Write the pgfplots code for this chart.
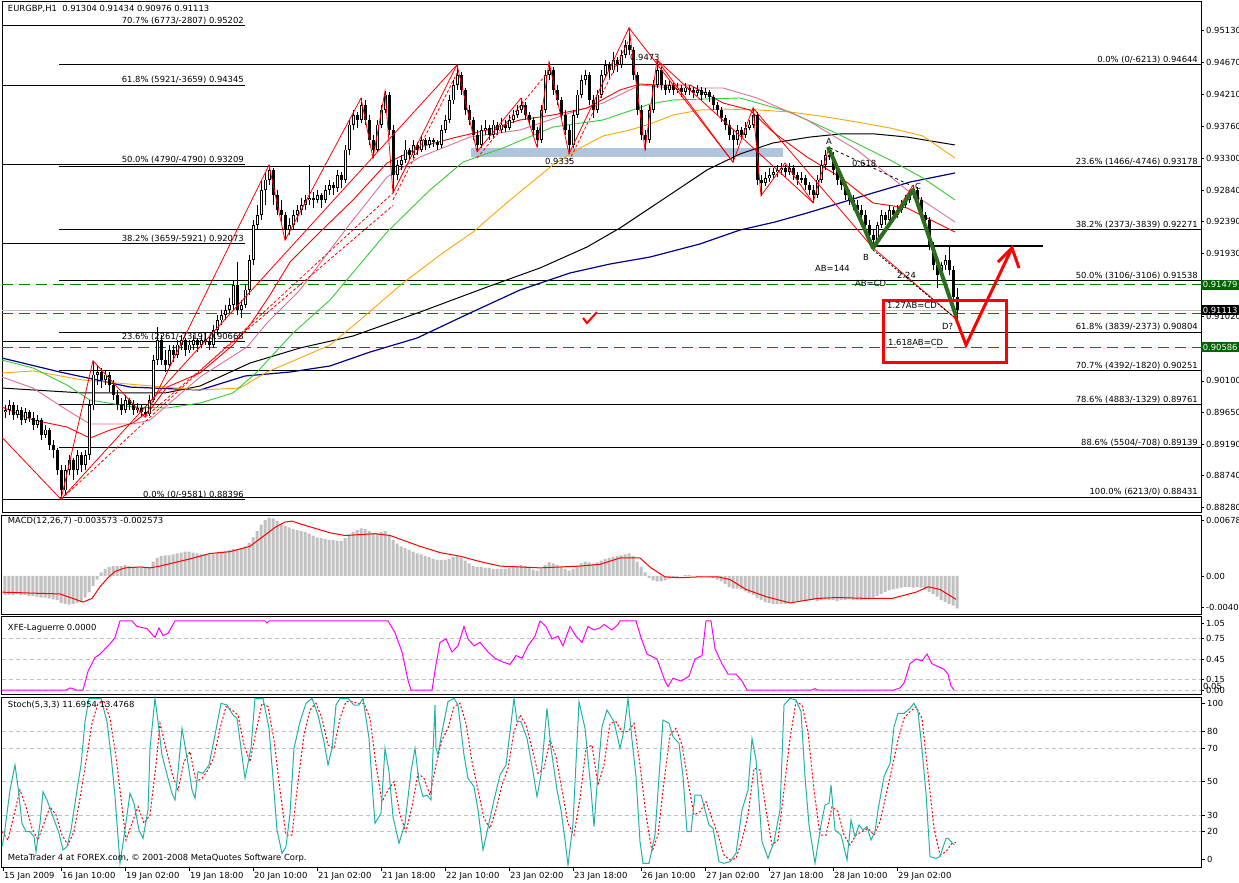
\documentclass[border=0pt]{standalone}
\usepackage{fontspec}
\setmainfont{DejaVu Sans}
\usepackage{pgfplots}
\usepackage{pgfplotstable}
\pgfplotsset{compat=1.18}

\definecolor{mtsilver}{RGB}{192,192,192}
\definecolor{mtgreen}{RGB}{0,128,0}
\definecolor{mtdkgreen}{RGB}{0,100,0}
\definecolor{abcdgreen}{RGB}{45,110,30}
\definecolor{mtpink}{RGB}{219,112,147}
\definecolor{mtlime}{RGB}{50,205,50}
\definecolor{mtorange}{RGB}{255,165,0}
\definecolor{mtnavy}{RGB}{0,0,139}
\definecolor{mtcyan}{RGB}{32,178,170}
\definecolor{mtsteel}{RGB}{176,196,222}
\definecolor{mtmag}{RGB}{255,0,255}
\newcommand\mtfont{\fontsize{8.4}{10}\selectfont}

% EURGBP H1 candles, one row per bar (open high low close)
\pgfplotstableread{
o h l c
0.8965 0.8975 0.8957 0.8968
0.8968 0.8983 0.8961 0.8975
0.8975 0.8980 0.8954 0.8961
0.8961 0.8975 0.8957 0.8968
0.8968 0.8973 0.8947 0.8954
0.8954 0.8971 0.8950 0.8965
0.8965 0.8968 0.8951 0.8957
0.8957 0.8965 0.8940 0.8947
0.8947 0.8961 0.8942 0.8954
0.8954 0.8957 0.8925 0.8932
0.8932 0.8947 0.8928 0.8940
0.8940 0.8942 0.8911 0.8918
0.8918 0.8925 0.8899 0.8911
0.8911 0.8914 0.8875 0.8882
0.8882 0.8889 0.8840 0.8853
0.8853 0.8889 0.8846 0.8882
0.8882 0.8904 0.8875 0.8896
0.8896 0.8899 0.8868 0.8882
0.8882 0.8911 0.8875 0.8904
0.8904 0.8908 0.8879 0.8889
0.8889 0.8911 0.8882 0.8904
0.8904 0.8983 0.8896 0.8975
0.8975 0.9039 0.8968 0.9019
0.9019 0.9033 0.9004 0.9023
0.9023 0.9029 0.9000 0.9011
0.9011 0.9026 0.9004 0.9019
0.9019 0.9023 0.8994 0.9004
0.9004 0.9011 0.8983 0.8990
0.8990 0.8997 0.8968 0.8975
0.8975 0.8985 0.8961 0.8968
0.8968 0.8990 0.8964 0.8983
0.8983 0.8985 0.8968 0.8975
0.8975 0.8983 0.8961 0.8968
0.8968 0.8978 0.8964 0.8971
0.8971 0.8975 0.8960 0.8965
0.8965 0.8974 0.8958 0.8962
0.8962 0.8990 0.8959 0.8983
0.8983 0.9047 0.8980 0.9040
0.9040 0.9087 0.9033 0.9069
0.9069 0.9076 0.9033 0.9040
0.9040 0.9054 0.9023 0.9033
0.9033 0.9062 0.9029 0.9054
0.9054 0.9062 0.9037 0.9047
0.9047 0.9069 0.9043 0.9062
0.9062 0.9076 0.9054 0.9069
0.9069 0.9072 0.9046 0.9054
0.9054 0.9069 0.9050 0.9062
0.9062 0.9076 0.9054 0.9069
0.9069 0.9072 0.9052 0.9062
0.9062 0.9076 0.9057 0.9069
0.9069 0.9079 0.9062 0.9066
0.9066 0.9073 0.9054 0.9062
0.9062 0.9090 0.9057 0.9083
0.9083 0.9105 0.9076 0.9097
0.9097 0.9112 0.9090 0.9105
0.9105 0.9119 0.9097 0.9112
0.9112 0.9129 0.9108 0.9119
0.9119 0.9155 0.9112 0.9148
0.9148 0.9181 0.9105 0.9112
0.9112 0.9126 0.9100 0.9119
0.9119 0.9148 0.9115 0.9141
0.9141 0.9191 0.9133 0.9184
0.9184 0.9241 0.9176 0.9234
0.9234 0.9263 0.9227 0.9248
0.9248 0.9299 0.9241 0.9284
0.9284 0.9310 0.9263 0.9299
0.9299 0.9320 0.9291 0.9313
0.9313 0.9316 0.9263 0.9277
0.9277 0.9284 0.9248 0.9255
0.9255 0.9270 0.9238 0.9248
0.9248 0.9253 0.9212 0.9227
0.9227 0.9244 0.9220 0.9234
0.9234 0.9255 0.9227 0.9248
0.9248 0.9263 0.9238 0.9255
0.9255 0.9273 0.9248 0.9263
0.9263 0.9277 0.9255 0.9270
0.9270 0.9320 0.9263 0.9273
0.9273 0.9281 0.9258 0.9270
0.9270 0.9284 0.9266 0.9277
0.9277 0.9280 0.9258 0.9270
0.9270 0.9291 0.9266 0.9284
0.9284 0.9299 0.9277 0.9291
0.9291 0.9296 0.9277 0.9287
0.9287 0.9313 0.9281 0.9306
0.9306 0.9310 0.9287 0.9299
0.9299 0.9349 0.9294 0.9342
0.9342 0.9385 0.9334 0.9378
0.9378 0.9399 0.9370 0.9392
0.9392 0.9396 0.9373 0.9385
0.9385 0.9416 0.9380 0.9406
0.9406 0.9413 0.9378 0.9385
0.9385 0.9392 0.9349 0.9356
0.9356 0.9363 0.9330 0.9342
0.9342 0.9385 0.9339 0.9378
0.9378 0.9406 0.9373 0.9399
0.9399 0.9426 0.9395 0.9421
0.9421 0.9425 0.9363 0.9370
0.9370 0.9378 0.9280 0.9306
0.9306 0.9327 0.9299 0.9320
0.9320 0.9334 0.9313 0.9327
0.9327 0.9356 0.9323 0.9342
0.9342 0.9344 0.9327 0.9334
0.9334 0.9356 0.9330 0.9349
0.9349 0.9353 0.9334 0.9342
0.9342 0.9363 0.9339 0.9356
0.9356 0.9359 0.9342 0.9349
0.9349 0.9360 0.9344 0.9356
0.9356 0.9359 0.9346 0.9353
0.9353 0.9356 0.9342 0.9349
0.9349 0.9378 0.9344 0.9370
0.9370 0.9392 0.9366 0.9385
0.9385 0.9421 0.9380 0.9413
0.9413 0.9442 0.9408 0.9435
0.9435 0.9464 0.9428 0.9449
0.9449 0.9454 0.9421 0.9428
0.9428 0.9431 0.9392 0.9399
0.9399 0.9406 0.9378 0.9385
0.9385 0.9389 0.9356 0.9363
0.9363 0.9370 0.9339 0.9349
0.9349 0.9378 0.9344 0.9370
0.9370 0.9385 0.9363 0.9373
0.9373 0.9378 0.9356 0.9363
0.9363 0.9385 0.9359 0.9378
0.9378 0.9382 0.9363 0.9370
0.9370 0.9388 0.9366 0.9378
0.9378 0.9385 0.9367 0.9373
0.9373 0.9392 0.9370 0.9385
0.9385 0.9399 0.9380 0.9392
0.9392 0.9406 0.9388 0.9399
0.9399 0.9416 0.9395 0.9406
0.9406 0.9411 0.9385 0.9392
0.9392 0.9396 0.9378 0.9385
0.9385 0.9389 0.9363 0.9370
0.9370 0.9375 0.9346 0.9356
0.9356 0.9406 0.9352 0.9399
0.9399 0.9456 0.9395 0.9449
0.9449 0.9468 0.9442 0.9456
0.9456 0.9461 0.9421 0.9428
0.9428 0.9435 0.9406 0.9413
0.9413 0.9418 0.9385 0.9392
0.9392 0.9399 0.9363 0.9370
0.9370 0.9378 0.9336 0.9349
0.9349 0.9399 0.9344 0.9392
0.9392 0.9428 0.9388 0.9421
0.9421 0.9449 0.9416 0.9442
0.9442 0.9456 0.9435 0.9449
0.9449 0.9454 0.9406 0.9413
0.9413 0.9421 0.9388 0.9399
0.9399 0.9428 0.9395 0.9421
0.9421 0.9456 0.9416 0.9449
0.9449 0.9471 0.9445 0.9464
0.9464 0.9468 0.9445 0.9456
0.9456 0.9482 0.9452 0.9471
0.9471 0.9475 0.9454 0.9464
0.9464 0.9485 0.9459 0.9478
0.9478 0.9500 0.9474 0.9492
0.9492 0.9517 0.9478 0.9485
0.9485 0.9490 0.9442 0.9449
0.9449 0.9454 0.9392 0.9399
0.9399 0.9406 0.9356 0.9363
0.9363 0.9370 0.9342 0.9356
0.9356 0.9406 0.9352 0.9399
0.9399 0.9442 0.9395 0.9435
0.9435 0.9471 0.9431 0.9456
0.9456 0.9461 0.9428 0.9435
0.9435 0.9442 0.9421 0.9428
0.9428 0.9442 0.9424 0.9435
0.9435 0.9439 0.9421 0.9428
0.9428 0.9438 0.9424 0.9431
0.9431 0.9435 0.9418 0.9425
0.9425 0.9438 0.9421 0.9431
0.9431 0.9435 0.9421 0.9428
0.9428 0.9432 0.9416 0.9424
0.9424 0.9435 0.9419 0.9428
0.9428 0.9432 0.9413 0.9421
0.9421 0.9431 0.9416 0.9425
0.9425 0.9428 0.9411 0.9418
0.9418 0.9421 0.9399 0.9406
0.9406 0.9411 0.9392 0.9399
0.9399 0.9403 0.9382 0.9388
0.9388 0.9392 0.9370 0.9378
0.9378 0.9385 0.9356 0.9363
0.9363 0.9370 0.9324 0.9356
0.9356 0.9378 0.9349 0.9370
0.9370 0.9375 0.9356 0.9363
0.9363 0.9382 0.9359 0.9373
0.9373 0.9385 0.9370 0.9378
0.9378 0.9402 0.9373 0.9392
0.9392 0.9396 0.9291 0.9299
0.9299 0.9306 0.9276 0.9294
0.9294 0.9310 0.9290 0.9301
0.9301 0.9316 0.9296 0.9306
0.9306 0.9316 0.9301 0.9310
0.9310 0.9320 0.9303 0.9313
0.9313 0.9323 0.9306 0.9316
0.9316 0.9320 0.9301 0.9310
0.9310 0.9323 0.9306 0.9316
0.9316 0.9320 0.9299 0.9306
0.9306 0.9310 0.9291 0.9299
0.9299 0.9310 0.9294 0.9301
0.9301 0.9306 0.9284 0.9291
0.9291 0.9296 0.9277 0.9284
0.9284 0.9291 0.9266 0.9277
0.9277 0.9306 0.9273 0.9299
0.9299 0.9327 0.9294 0.9320
0.9320 0.9342 0.9313 0.9334
0.9334 0.9346 0.9327 0.9331
0.9331 0.9339 0.9306 0.9313
0.9313 0.9320 0.9291 0.9299
0.9299 0.9306 0.9284 0.9291
0.9291 0.9296 0.9270 0.9277
0.9277 0.9284 0.9263 0.9270
0.9270 0.9277 0.9255 0.9263
0.9263 0.9270 0.9248 0.9255
0.9255 0.9263 0.9241 0.9248
0.9248 0.9255 0.9227 0.9234
0.9234 0.9241 0.9212 0.9220
0.9220 0.9227 0.9201 0.9212
0.9212 0.9238 0.9208 0.9234
0.9234 0.9255 0.9230 0.9248
0.9248 0.9253 0.9234 0.9241
0.9241 0.9263 0.9237 0.9255
0.9255 0.9260 0.9241 0.9248
0.9248 0.9263 0.9244 0.9255
0.9255 0.9270 0.9251 0.9263
0.9263 0.9277 0.9258 0.9270
0.9270 0.9284 0.9266 0.9277
0.9277 0.9291 0.9273 0.9284
0.9284 0.9288 0.9263 0.9270
0.9270 0.9274 0.9241 0.9248
0.9248 0.9253 0.9234 0.9241
0.9241 0.9245 0.9198 0.9205
0.9205 0.9210 0.9169 0.9176
0.9176 0.9184 0.9143 0.9162
0.9162 0.9181 0.9158 0.9176
0.9176 0.9191 0.9169 0.9184
0.9184 0.9202 0.9162 0.9169
0.9169 0.9175 0.9126 0.9130
0.91304 0.91434 0.90976 0.91113
}\candles

% MACD(12,26,7) histogram, one value per bar
\pgfplotstableread{
v
-0.0021
-0.0021
-0.0021
-0.0020
-0.0021
-0.0021
-0.0022
-0.0022
-0.0023
-0.0024
-0.0024
-0.0025
-0.0026
-0.0027
-0.0030
-0.0031
-0.0032
-0.0031
-0.0030
-0.0028
-0.0024
-0.0018
-0.0011
-0.0004
0.0004
0.0008
0.0010
0.0011
0.0011
0.0011
0.0012
0.0011
0.0010
0.0010
0.0009
0.0009
0.0010
0.0016
0.0020
0.0022
0.0023
0.0023
0.0024
0.0025
0.0026
0.0027
0.0027
0.0026
0.0025
0.0024
0.0024
0.0024
0.0025
0.0026
0.0027
0.0028
0.0029
0.0030
0.0030
0.0031
0.0033
0.0037
0.0043
0.0050
0.0057
0.0062
0.0065
0.0064
0.0061
0.0058
0.0056
0.0054
0.0052
0.0051
0.0050
0.0049
0.0047
0.0045
0.0043
0.0042
0.0041
0.0040
0.0040
0.0039
0.0039
0.0042
0.0046
0.0049
0.0051
0.0053
0.0052
0.0050
0.0048
0.0048
0.0049
0.0050
0.0046
0.0040
0.0036
0.0033
0.0031
0.0029
0.0027
0.0025
0.0024
0.0022
0.0021
0.0019
0.0018
0.0018
0.0018
0.0019
0.0021
0.0022
0.0020
0.0017
0.0014
0.0011
0.0010
0.0010
0.0009
0.0009
0.0008
0.0008
0.0008
0.0008
0.0009
0.0010
0.0011
0.0012
0.0011
0.0009
0.0007
0.0006
0.0008
0.0012
0.0015
0.0014
0.0012
0.0010
0.0008
0.0006
0.0008
0.0011
0.0014
0.0016
0.0015
0.0014
0.0015
0.0017
0.0019
0.0020
0.0021
0.0022
0.0023
0.0024
0.0025
0.0022
0.0016
0.0010
0.0004
-0.0002
-0.0005
-0.0006
-0.0006
-0.0005
-0.0003
-0.0002
-0.0001
0.0000
0.0001
0.0001
0.0000
-0.0001
-0.0001
0.0000
-0.0001
-0.0002
-0.0004
-0.0006
-0.0009
-0.0012
-0.0014
-0.0014
-0.0015
-0.0017
-0.0019
-0.0021
-0.0024
-0.0027
-0.0029
-0.0030
-0.0031
-0.0031
-0.0031
-0.0031
-0.0030
-0.0029
-0.0028
-0.0028
-0.0028
-0.0027
-0.0027
-0.0028
-0.0027
-0.0026
-0.0027
-0.0027
-0.0028
-0.0027
-0.0027
-0.0026
-0.0027
-0.0027
-0.0027
-0.0026
-0.0026
-0.0024
-0.0022
-0.0020
-0.0018
-0.0016
-0.0015
-0.0014
-0.0013
-0.0012
-0.0012
-0.0013
-0.0012
-0.0013
-0.0015
-0.0018
-0.0020
-0.0023
-0.0027
-0.0029
-0.0031
-0.0033
-0.0036
}\macd

\pgfplotsset{
  mt/.style={
    scale only axis, width=1199pt, xmin=2, xmax=1201,
    axis line style={black, line width=1pt},
    xtick=\empty,
    ytick pos=right, yticklabel pos=right,
    tick align=outside, major tick length=3pt,
    tick style={black, line width=0.8pt},
    yticklabel style={anchor=west, inner sep=0pt, xshift=2pt, font=\mtfont},
    scaled y ticks=false,
    clip=false,
  },
  candle/.style={draw=none, mark=none, forget plot,
    error bars/.cd, y dir=plus, y explicit, error mark=none},
}

\begin{document}
\mtfont
\begin{tikzpicture}[x=1pt, y=1pt, font=\mtfont]
\path[use as bounding box] (0,0) rectangle (1239,-883);

% ---------------- main price window ----------------
\begin{axis}[mt, at={(2pt,-2pt)}, anchor=north west, height=510pt,
  ymin=0.88218, ymax=0.95541,
  ytick={0.9513,0.9467,0.9421,0.9376,0.9330,0.9284,0.9239,0.9193,0.9148,0.9102,0.9056,0.9010,0.8965,0.8919,0.8874,0.8828},
  yticklabels={0.95130,0.94670,0.94210,0.93760,0.93300,0.92840,0.92390,0.91930,{},0.91020,{},0.90100,0.89650,0.89190,0.88740,0.88280}]

% support rectangle
\addplot[mtsteel, line width=9pt] coordinates {(471,0.9338) (783,0.9338)};

% fibonacci, left set
\addplot[black, line width=0.8pt] coordinates {(2,0.95202) (245,0.95202)};
\addplot[black, line width=0.8pt] coordinates {(2,0.94345) (245,0.94345)};
\addplot[black, line width=0.8pt] coordinates {(2,0.93209) (245,0.93209)};
\addplot[black, line width=0.8pt] coordinates {(2,0.92073) (245,0.92073)};
\addplot[black, line width=0.8pt] coordinates {(2,0.90668) (245,0.90668)};
\addplot[black, line width=0.8pt] coordinates {(2,0.88396) (245,0.88396)};
% fibonacci, right set
\addplot[black, line width=0.8pt] coordinates {(59,0.94644) (1201,0.94644)};
\addplot[black, line width=0.8pt] coordinates {(59,0.93178) (1201,0.93178)};
\addplot[black, line width=0.8pt] coordinates {(59,0.92271) (1201,0.92271)};
\addplot[black, line width=0.8pt] coordinates {(59,0.91538) (1201,0.91538)};
\addplot[black, line width=0.8pt] coordinates {(59,0.90804) (1201,0.90804)};
\addplot[black, line width=0.8pt] coordinates {(59,0.90251) (1201,0.90251)};
\addplot[black, line width=0.8pt] coordinates {(59,0.89761) (1201,0.89761)};
\addplot[black, line width=0.8pt] coordinates {(59,0.89139) (1201,0.89139)};
\addplot[black, line width=0.8pt] coordinates {(59,0.88431) (1201,0.88431)};

% bid line and dashed AB=CD levels
\addplot[mtsilver, line width=1pt] coordinates {(2,0.91113) (1201,0.91113)};
\addplot[mtgreen, line width=1pt, dash pattern=on 11pt off 6pt] coordinates {(2,0.91479) (1201,0.91479)};
\addplot[mtgreen, line width=1pt, dash pattern=on 11pt off 6pt] coordinates {(2,0.91070) (1201,0.91070)};
\addplot[mtgreen, line width=1pt, dash pattern=on 11pt off 6pt] coordinates {(2,0.90586) (1201,0.90586)};

% moving averages
\addplot[mtnavy, line width=1.2pt] coordinates {(2,0.90429) (60,0.90228) (130,0.90012) (200,0.89970) (245,0.90171) (290,0.90228) (330,0.90315) (370,0.90515) (417,0.90716) (470,0.91075) (520,0.91406) (570,0.91650) (610,0.91779) (650,0.91879) (700,0.92067) (740,0.92267) (775,0.92382) (807,0.92511) (840,0.92655) (873,0.92799) (910,0.92956) (955,0.93086)};
\addplot[black, line width=1pt] coordinates {(2,0.89998) (83,0.89927) (165,0.89927) (200,0.90027) (250,0.90357) (300,0.90573) (353,0.90745) (420,0.91089) (487,0.91448) (540,0.91722) (587,0.92023) (620,0.92296) (650,0.92583) (680,0.92870) (707,0.93129) (740,0.93359) (773,0.93517) (810,0.93602) (840,0.93646) (875,0.93646) (907,0.93602) (955,0.93488)};
\addplot[mtorange, line width=0.9pt] coordinates {(2,0.90214) (33,0.90243) (83,0.90113) (140,0.90041) (200,0.89970) (240,0.89998) (267,0.90228) (300,0.90429) (330,0.90616) (360,0.90975) (403,0.91506) (440,0.91908) (473,0.92238) (510,0.92698) (553,0.93201) (580,0.93445) (603,0.93617) (630,0.93703) (650,0.93789) (673,0.93919) (700,0.93990) (723,0.94004) (760,0.93990) (790,0.93961) (820,0.93904) (857,0.93818) (890,0.93732) (923,0.93617) (955,0.93301)};
\addplot[mtlime, line width=0.9pt] coordinates {(2,0.90400) (33,0.90286) (67,0.90041) (90,0.89826) (133,0.89725) (167,0.89711) (200,0.89783) (233,0.89927) (257,0.90228) (293,0.90788) (330,0.91262) (387,0.92238) (430,0.92842) (463,0.93243) (503,0.93445) (553,0.93746) (603,0.93847) (650,0.94077) (673,0.94134) (740,0.94163) (790,0.93961) (840,0.93631) (890,0.93272) (923,0.93014) (955,0.92698)};
\addplot[mtpink, line width=0.9pt] coordinates {(2,0.90156) (33,0.89998) (67,0.89682) (90,0.89482) (133,0.89482) (150,0.89539) (200,0.90156) (247,0.90587) (267,0.90932) (300,0.91406) (330,0.91980) (353,0.92411) (387,0.93028) (420,0.93315) (470,0.93602) (520,0.93703) (570,0.93947) (603,0.94091) (640,0.94349) (673,0.94306) (723,0.94306) (757,0.94163) (807,0.93847) (857,0.93416) (907,0.92842) (955,0.92382)};
\addplot[red, line width=0.9pt] coordinates {(2,0.89725) (33,0.89539) (67,0.89438) (90,0.89280) (110,0.89395) (133,0.89496) (150,0.89682) (167,0.90012) (200,0.90214) (233,0.90616) (250,0.90903) (270,0.91334) (290,0.91807) (320,0.92238) (353,0.92698) (387,0.93229) (420,0.93459) (453,0.93588) (487,0.93703) (520,0.93847) (553,0.93919) (587,0.94019) (620,0.94278) (640,0.94364) (657,0.94349) (690,0.94349) (723,0.94091) (750,0.93990) (773,0.93674) (807,0.93315) (840,0.93028) (873,0.92655) (907,0.92583) (955,0.92238)};

% candlesticks: wick, body, hollow up-bodies
\addplot[candle, error bar style={draw=black, line width=1pt}]
  table[x expr=5+4*\coordindex, y=l, y error plus expr={\thisrow{h}-\thisrow{l}}] \candles;
\addplot[candle, error bar style={draw=black, line width=3pt}]
  table[x expr=5+4*\coordindex, y expr={min(\thisrow{o},\thisrow{c})}, y error plus expr={max(abs(\thisrow{c}-\thisrow{o}),0.00008)}] \candles;
\addplot[candle, error bar style={draw=white, line width=1pt}]
  table[x expr=5+4*\coordindex, y expr={min(\thisrow{o},\thisrow{c})+0.00011}, y error plus expr={max(\thisrow{c}-\thisrow{o}-0.00022,0)}] \candles;

% zigzag swings
\addplot[red, line width=0.8pt] coordinates {(2,0.8929) (61,0.8840) (93,0.9039) (145,0.8958) (269,0.9320) (285,0.9212) (361,0.9416) (373,0.9330) (385,0.9426) (393,0.9280) (457,0.9464) (477,0.9339) (521,0.9416) (537,0.9346) (549,0.9468) (569,0.9336) (629,0.9517) (645,0.9342) (657,0.9471) (733,0.9324) (753,0.9402) (761,0.9276) (785,0.9323) (813,0.9266) (829,0.9346) (873,0.9201) (913,0.9291) (957,0.9098)};
\addplot[red, line width=0.8pt] coordinates {(61,0.8840) (457,0.9464)};
\addplot[red, line width=0.8pt] coordinates {(629,0.9517) (733,0.9324)};
\addplot[red, line width=0.8pt] coordinates {(657,0.9471) (813,0.9266)};
\addplot[red, line width=0.8pt] coordinates {(753,0.9402) (873,0.9201) (957,0.9098)};
\addplot[red, line width=0.8pt, dash pattern=on 3pt off 2pt] coordinates {(61,0.8840) (393,0.9280)};
\addplot[red, line width=0.8pt, dash pattern=on 3pt off 2pt] coordinates {(145,0.8958) (393,0.9262)};
\addplot[red, line width=0.8pt, dash pattern=on 3pt off 2pt] coordinates {(393,0.9270) (457,0.9452)};
\addplot[red, line width=0.8pt, dash pattern=on 3pt off 2pt] coordinates {(477,0.9330) (549,0.9455)};
\addplot[red, line width=0.8pt, dash pattern=on 3pt off 2pt] coordinates {(569,0.9326) (629,0.9500)};

% AB=CD pattern
\addplot[black, line width=0.8pt, dash pattern=on 3pt off 3pt] coordinates {(830,0.93445) (912,0.92899)};
\addplot[black, line width=0.8pt, dash pattern=on 2pt off 2pt] coordinates {(873,0.91980) (955,0.91004)};
\addplot[black, line width=2.2pt] coordinates {(873,0.92040) (1043,0.92040)};
\addplot[abcdgreen, line width=4pt, line join=round] coordinates {(828,0.93459) (873,0.92009) (913,0.92842) (956,0.91033)};
\addplot[red, line width=3pt, line join=miter] coordinates {(940,0.91262) (1006,0.91262) (1006,0.90371) (883,0.90371) (883,0.91262) (945,0.91262)};
\addplot[red, line width=3pt, line join=miter] coordinates {(955,0.91033) (966,0.90616) (1012,0.92009)};
\addplot[red, line width=3pt, line join=miter] coordinates {(998,0.91807) (1012,0.92009) (1019,0.91722)};
\addplot[red, line width=2pt] coordinates {(583,0.91004) (587,0.90932) (597,0.91089)};

% labels
\node[anchor=west] at (axis cs:5,0.95441) {EURGBP,H1\ \ 0.91304 0.91434 0.90976 0.91113};
\node[anchor=south east, inner sep=1pt] at (axis cs:245,0.95202) {70.7\% (6773/-2807) 0.95202};
\node[anchor=south east, inner sep=1pt] at (axis cs:245,0.94345) {61.8\% (5921/-3659) 0.94345};
\node[anchor=south east, inner sep=1pt] at (axis cs:245,0.93209) {50.0\% (4790/-4790) 0.93209};
\node[anchor=south east, inner sep=1pt] at (axis cs:245,0.92073) {38.2\% (3659/-5921) 0.92073};
\node[anchor=south east, inner sep=1pt] at (axis cs:245,0.90668) {23.6\% (2261/-7319) 0.90668};
\node[anchor=south east, inner sep=1pt] at (axis cs:245,0.88396) {0.0\% (0/-9581) 0.88396};
\node[anchor=south east, inner sep=1pt] at (axis cs:1199,0.94644) {0.0\% (0/-6213) 0.94644};
\node[anchor=south east, inner sep=1pt] at (axis cs:1199,0.93178) {23.6\% (1466/-4746) 0.93178};
\node[anchor=south east, inner sep=1pt] at (axis cs:1199,0.92271) {38.2\% (2373/-3839) 0.92271};
\node[anchor=south east, inner sep=1pt] at (axis cs:1199,0.91538) {50.0\% (3106/-3106) 0.91538};
\node[anchor=south east, inner sep=1pt] at (axis cs:1199,0.90804) {61.8\% (3839/-2373) 0.90804};
\node[anchor=south east, inner sep=1pt] at (axis cs:1199,0.90251) {70.7\% (4392/-1820) 0.90251};
\node[anchor=south east, inner sep=1pt] at (axis cs:1199,0.89761) {78.6\% (4883/-1329) 0.89761};
\node[anchor=south east, inner sep=1pt] at (axis cs:1199,0.89139) {88.6\% (5504/-708) 0.89139};
\node[anchor=south east, inner sep=1pt] at (axis cs:1199,0.88431) {100.0\% (6213/0) 0.88431};
\node[anchor=west, inner sep=0pt] at (axis cs:545,0.93258) {0.9335};
\node[anchor=west, inner sep=0pt] at (axis cs:630,0.94751) {0.9473};
\node[anchor=west, inner sep=0pt] at (axis cs:852,0.93229) {0.618};
\node[inner sep=0pt] at (axis cs:829,0.93545) {A};
\node[inner sep=0pt] at (axis cs:866,0.91879) {B};
\node[inner sep=0pt] at (axis cs:918,0.92899) {C};
\node[anchor=west, inner sep=0pt] at (axis cs:815,0.91722) {AB=144};
\node[anchor=west, inner sep=0pt] at (axis cs:855,0.91506) {AB=CD};
\node[anchor=west, inner sep=0pt] at (axis cs:897,0.91621) {2.24};
\node[anchor=west, inner sep=0pt] at (axis cs:887,0.91190) {1.27AB=CD};
\node[anchor=west, inner sep=0pt] at (axis cs:942,0.90889) {D?};
\node[anchor=west, inner sep=0pt] at (axis cs:888,0.90659) {1.618AB=CD};
% price tags on the scale
\node[anchor=west, fill=mtdkgreen, text=white, inner sep=1pt, minimum width=38pt, minimum height=10pt] at (axis cs:1201,0.91479) {0.91479};
\node[anchor=west, fill=black, text=white, inner sep=1pt, minimum width=38pt, minimum height=10pt] at (axis cs:1201,0.91113) {0.91113};
\node[anchor=west, fill=mtdkgreen, text=white, inner sep=1pt, minimum width=38pt, minimum height=10pt] at (axis cs:1201,0.90586) {0.90586};
\end{axis}

% ---------------- MACD ----------------
\begin{axis}[mt, at={(2pt,-515pt)}, anchor=north west, height=99pt,
  ymin=-0.00423, ymax=0.00678,
  ytick={0.00615,0,-0.00346}, yticklabels={0.006781,0.00,-0.00406}]
\addplot[ybar, bar width=3pt, fill=mtsilver, draw=none] table[x expr=5+4*\coordindex, y=v] \macd;
\addplot[red, line width=1pt] coordinates {(2,-0.0018) (60,-0.0020) (83,-0.0029) (92,-0.0025) (100,-0.0012) (108,-0.0002) (115,0.0005) (125,0.0009) (140,0.0010) (150,0.0009) (160,0.0011) (175,0.0015) (190,0.0019) (210,0.0025) (230,0.0027) (250,0.0033) (262,0.0043) (275,0.0054) (285,0.0060) (292,0.0061) (300,0.0058) (315,0.0053) (330,0.0048) (345,0.0045) (360,0.0046) (375,0.0047) (390,0.0045) (405,0.0039) (420,0.0033) (440,0.0026) (460,0.0022) (480,0.0016) (500,0.0011) (520,0.0010) (540,0.0009) (560,0.0010) (580,0.0011) (600,0.0013) (620,0.0020) (640,0.0020) (651,0.0009) (665,-0.0001) (679,-0.0002) (699,-0.0001) (718,-0.0001) (730,-0.0004) (746,-0.0015) (766,-0.0023) (790,-0.0030) (817,-0.0025) (837,-0.0024) (869,-0.0025) (892,-0.0025) (916,-0.0018) (928,-0.0012) (940,-0.0015) (956,-0.0026)};
\node[anchor=west] at (axis cs:5,0.0061) {MACD(12,26,7) -0.003573 -0.002573};
\end{axis}

% ---------------- XFE-Laguerre ----------------
\begin{axis}[mt, at={(2pt,-616pt)}, anchor=north west, height=78pt,
  ymin=-0.058, ymax=1.072,
  ytick={0.97,0.75,0.45,0.15,0}, yticklabels={1.05,0.75,0.45,0.15,0.00}]
\addplot[mtsilver, line width=0.8pt, dash pattern=on 4pt off 3pt] coordinates {(2,0.75) (1201,0.75)};
\addplot[mtsilver, line width=0.8pt, dash pattern=on 4pt off 3pt] coordinates {(2,0.45) (1201,0.45)};
\addplot[mtsilver, line width=0.8pt, dash pattern=on 4pt off 3pt] coordinates {(2,0.15) (1201,0.15)};
\addplot[mtsilver, line width=0.8pt, dash pattern=on 4pt off 3pt] coordinates {(2,0) (1201,0)};
\addplot[mtmag, line width=1pt] coordinates {(2,0) (66,0) (70,0.03) (73,0.02) (76,0) (83,0) (88,0.27) (95,0.47) (100,0.52) (110,0.67) (115,0.76) (120,1.0) (132,1.0) (137,0.92) (147,0.89) (155,0.76) (159,0.9) (163,0.79) (168,0.82) (175,1.0) (265,1.0) (267,0.97) (269,1.0) (388,1.0) (395,0.83) (402,0.55) (408,0.14) (411,0) (432,0) (436,0.37) (440,0.69) (446,0.74) (452,0.55) (458,0.64) (464,0.92) (468,0.74) (474,0.64) (480,0.69) (488,0.55) (495,0.46) (502,0.41) (510,0.37) (516,0.5) (522,0.46) (528,0.64) (535,0.78) (540,1.0) (546,0.92) (552,0.74) (558,0.78) (563,0.64) (570,0.92) (576,0.78) (582,0.69) (588,0.92) (594,0.87) (600,0.9) (604,0.95) (612,0.87) (618,0.95) (620,1.0) (636,1.0) (641,0.76) (647,0.52) (657,0.45) (665,0.13) (668,0.05) (673,0.17) (681,0.13) (689,0.2) (695,0.45) (702,0.5) (706,1.0) (711,1.0) (715,0.6) (722,0.38) (728,0.23) (736,0.23) (742,0.13) (747,0) (812,0) (815,0.02) (818,0) (894,0) (900,0.03) (904,0.1) (910,0.38) (916,0.45) (922,0.42) (927,0.52) (932,0.38) (944,0.3) (948,0.23) (951,0.06) (954,0)};
\node[anchor=west] at (axis cs:5,0.90) {XFE-Laguerre 0.0000};
\node[anchor=west, inner sep=0pt] at (axis cs:1203,0.045) {0.05};
\end{axis}

% ---------------- Stochastic ----------------
\begin{axis}[mt, at={(2pt,-697pt)}, anchor=north west, height=170pt,
  ymin=-1.2, ymax=100.8,
  ytick={97,80,70,50,30,20,3.5}, yticklabels={100,80,70,50,30,20,0},
  xtick={3,61,125,189,253,317,381,445,509,573,641,705,769,833,897},
  xticklabels={15 Jan 2009,16 Jan 10:00,19 Jan 02:00,19 Jan 18:00,20 Jan 10:00,21 Jan 02:00,21 Jan 18:00,22 Jan 10:00,23 Jan 02:00,23 Jan 18:00,26 Jan 10:00,27 Jan 02:00,27 Jan 18:00,28 Jan 10:00,29 Jan 02:00},
  xtick pos=left, major tick length=4pt,
  xticklabel style={anchor=north west, inner sep=0pt, xshift=1pt, yshift=-1pt, font=\mtfont}]
\addplot[mtsilver, line width=0.8pt, dash pattern=on 4pt off 3pt] coordinates {(2,80) (1201,80)};
\addplot[mtsilver, line width=0.8pt, dash pattern=on 4pt off 3pt] coordinates {(2,70) (1201,70)};
\addplot[mtsilver, line width=0.8pt, dash pattern=on 4pt off 3pt] coordinates {(2,50) (1201,50)};
\addplot[mtsilver, line width=0.8pt, dash pattern=on 4pt off 3pt] coordinates {(2,30) (1201,30)};
\addplot[mtsilver, line width=0.8pt, dash pattern=on 4pt off 3pt] coordinates {(2,20) (1201,20)};
% %D signal
\addplot[red, line width=1pt, dash pattern=on 2pt off 2pt] coordinates {(2,20) (8,15) (14,30) (20,45) (26,35) (32,22) (38,15) (44,25) (50,35) (56,30) (62,18) (68,12) (74,20) (80,40) (86,62) (92,85) (98,97) (104,98) (110,88) (116,65) (122,35) (126,15) (132,25) (138,35) (144,25) (150,30) (156,60) (160,85) (166,70) (172,55) (178,45) (184,62) (190,68) (196,50) (202,52) (208,57) (214,65) (220,82) (226,95) (232,93) (238,90) (244,72) (250,62) (256,80) (262,97) (268,95) (274,75) (280,45) (286,18) (292,18) (298,50) (304,78) (310,93) (316,97) (322,88) (328,72) (334,70) (340,88) (346,98) (352,98) (358,97) (364,97) (370,88) (376,60) (382,38) (388,45) (394,50) (400,30) (406,20) (412,35) (418,55) (424,52) (430,42) (436,60) (442,75) (448,82) (454,95) (460,97) (466,85) (472,62) (478,45) (484,28) (490,22) (496,33) (502,48) (508,58) (514,80) (520,90) (526,84) (532,70) (538,55) (544,58) (550,75) (556,65) (562,45) (568,25) (574,18) (580,40) (586,70) (592,72) (598,48) (604,60) (610,85) (616,86) (622,80) (628,80) (634,85) (640,60) (646,30) (652,8) (658,18) (664,50) (670,78) (676,82) (682,72) (688,50) (694,30) (700,32) (706,38) (712,28) (718,18) (724,6) (730,3) (736,4) (742,15) (748,30) (754,58) (760,57) (766,33) (772,12) (778,15) (784,45) (790,76) (796,98) (802,96) (808,80) (814,45) (820,18) (826,18) (832,35) (838,32) (844,18) (850,12) (856,18) (862,20) (868,22) (874,18) (880,26) (886,42) (892,58) (898,75) (904,88) (910,92) (916,95) (922,88) (928,55) (934,22) (940,6) (946,8) (952,13) (956,13.5)};
% %K main
\addplot[mtcyan, line width=1pt] coordinates {(2,11) (4,17) (10,45) (15,60) (18,47) (22,25) (26,20) (30,20) (34,17) (36,8) (40,25) (43,44) (47,39) (53,29) (59,19) (63,9) (67,11) (71,21) (77,45) (81,60) (85,86) (89,100) (95,100) (101,100) (107,86) (111,66) (115,41) (119,9) (120,1) (124,17) (130,43) (134,37) (139,21) (143,16) (148,33) (150,70) (155,100) (158,86) (162,66) (168,52) (172,43) (175,39) (178,56) (182,82) (188,61) (192,45) (195,40) (198,56) (203,55) (209,60) (215,78) (221,97) (227,96) (233,90) (237,88) (241,70) (245,52) (251,70) (255,100) (263,100) (269,82) (273,52) (277,21) (282,7) (286,11) (290,31) (294,70) (300,86) (306,97) (312,100) (318,90) (324,74) (328,60) (332,70) (336,96) (340,100) (348,100) (354,96) (359,96) (363,100) (369,76) (373,41) (375,25) (381,31) (385,70) (389,56) (393,29) (399,13) (405,25) (411,56) (415,70) (419,50) (423,41) (427,42) (431,39) (435,96) (436,70) (438,66) (442,80) (448,98) (454,100) (458,96) (464,66) (468,52) (474,47) (478,33) (483,9) (486,17) (494,39) (500,54) (506,60) (510,80) (514,100) (517,86) (521,86) (527,76) (533,56) (537,41) (541,54) (547,94) (551,70) (557,45) (561,33) (565,15) (568,0) (573,25) (579,98) (585,82) (591,45) (594,23) (598,56) (602,83) (607,93) (614,86) (620,70) (624,81) (628,100) (632,75) (636,53) (640,14) (643,1) (649,1) (655,18) (659,53) (663,87) (669,85) (673,77) (679,73) (683,53) (687,20) (691,20) (695,42) (701,42) (705,33) (709,24) (713,22) (719,2) (724,1) (730,2) (736,7) (742,33) (748,45) (752,76) (756,63) (762,14) (768,4) (774,14) (780,33) (784,96) (790,100) (796,99) (801,92) (805,53) (809,24) (815,1) (821,24) (825,36) (829,37) (831,48) (835,21) (841,18) (847,3) (851,27) (855,17) (859,24) (863,21) (867,23) (871,15) (875,20) (878,33) (884,53) (890,61) (894,83) (898,91) (904,91) (910,94) (914,97) (918,92) (922,69) (926,43) (930,5) (936,4) (940,5) (946,16) (948,16) (954,12)};
\node[anchor=west] at (axis cs:5,96) {Stoch(5,3,3) 11.6954 13.4768};
\node[anchor=west] at (axis cs:5,4.3) {MetaTrader 4 at FOREX.com, © 2001-2008 MetaQuotes Software Corp.};
\end{axis}
\end{tikzpicture}
\end{document}
